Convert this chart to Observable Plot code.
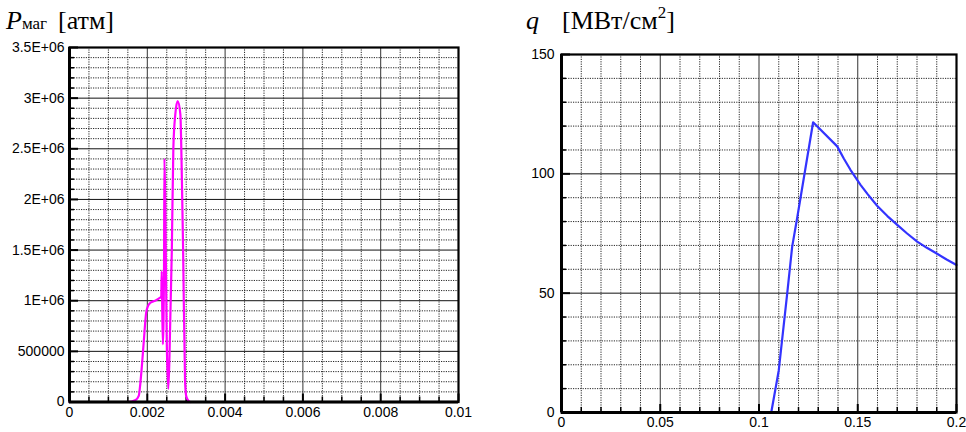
<!DOCTYPE html>
<html>
<head>
<meta charset="utf-8">
<script src="https://cdn.jsdelivr.net/npm/d3@7"></script>
<script src="https://cdn.jsdelivr.net/npm/@observablehq/plot@0.6"></script>
<style>
  html, body { margin: 0; padding: 0; background: #fff; }
  #wrap { position: relative; width: 966px; height: 432px; overflow: hidden; background: #fff; }
  .panel { position: absolute; top: 0; z-index: 0; }
  .ttl { position: absolute; z-index: 2; font-family: "Liberation Serif", "Times New Roman", serif; font-size: 26px; line-height: 26px; color: #000; white-space: nowrap; }
  svg { overflow: visible; }
</style>
</head>
<body>
<div id="wrap">
  <div id="left" class="panel" style="left:0px;"></div>
  <div id="right" class="panel" style="left:480px;"></div>
  <div class="ttl" style="left:6px; top:8px;"><i>P</i><span style="font-size:17px;">маг</span></div>
  <div class="ttl" style="left:58px; top:8px;">[атм]</div>
  <div class="ttl" style="left:526px; top:8px;"><i>q</i></div>
  <div class="ttl" style="left:562px; top:8px;">[МВт/см<span style="font-size:17px; position:relative; top:-11px;">2</span>]</div>
</div>
<script>
// ---- Left panel data: magnetic pressure vs time ----
const pTime = [0, 0.0015, 0.0017, 0.00178, 0.00182, 0.00187, 0.00191, 0.00197, 0.00202, 0.00208, 0.0022, 0.00233, 0.00236, 0.00237, 0.00238, 0.0024, 0.00243, 0.00244, 0.00246, 0.0025, 0.00254, 0.00257, 0.00263, 0.00267, 0.00272, 0.00278, 0.00285, 0.00289, 0.00292, 0.00297, 0.003, 0.00306, 0.0031];
const pMag  = [0, 0, 20000, 60000, 180000, 400000, 600000, 880000, 950000, 980000, 1000000, 1030000, 1040000, 1290000, 1050000, 570000, 1300000, 2400000, 2000000, 600000, 130000, 450000, 1490000, 2510000, 2840000, 2970000, 2840000, 2180000, 1520000, 210000, 60000, 10000, 0];

const leftXTicks  = [0, 0.002, 0.004, 0.006, 0.008, 0.01];
const leftXLabels = ["0", "0.002", "0.004", "0.006", "0.008", "0.01"];
const leftYTicks  = [0, 500000, 1000000, 1500000, 2000000, 2500000, 3000000, 3500000];
const leftYLabels = ["0", "500000", "1E+06", "1.5E+06", "2E+06", "2.5E+06", "3E+06", "3.5E+06"];
const leftXMinorStep = 0.0005;
const leftYMinorStep = 100000;

// ---- Right panel data: heat flux vs time ----
const qTime = [0.1062, 0.110, 0.1143, 0.1168, 0.1193, 0.1274, 0.1396, 0.143, 0.1463, 0.1514, 0.155, 0.1598, 0.165, 0.170, 0.175, 0.1801, 0.185, 0.1902, 0.195, 0.2];
const qFlux = [0, 17.6, 50, 69.5, 81.4, 121.6, 111.5, 106.3, 101.7, 95.4, 91.5, 86.6, 82.3, 78.6, 75.0, 71.6, 69.0, 66.5, 64.1, 61.8];

const rightXTicks  = [0, 0.05, 0.1, 0.15, 0.2];
const rightXLabels = ["0", "0.05", "0.1", "0.15", "0.2"];
const rightYTicks  = [0, 50, 100, 150];
const rightYLabels = ["0", "50", "100", "150"];
const rightXMinorStep = 0.01;
const rightYMinorStep = 10;

function minors(ticks, step) {
  const lo = ticks[0], hi = ticks[ticks.length - 1];
  const n = Math.round((hi - lo) / step);
  const out = [];
  for (let i = 0; i <= n; i++) {
    const v = lo + i * step;
    if (!ticks.some(t => Math.abs(t - v) < step * 1e-6)) out.push(v);
  }
  return out;
}

function panel(cfg) {
  const xMinor = minors(cfg.xTicks, cfg.xMinorStep);
  const yMinor = minors(cfg.yTicks, cfg.yMinorStep);
  const pw = cfg.width - cfg.ml - cfg.mr;
  const ph = cfg.height - cfg.mt - cfg.mb;
  const xLab = new Map(cfg.xTicks.map((t, i) => [t, cfg.xLabels[i]]));
  const yLab = new Map(cfg.yTicks.map((t, i) => [t, cfg.yLabels[i]]));
  const data = cfg.xs.map((x, i) => ({x, y: cfg.ys[i]}));
  const dotted = {stroke: "#000", strokeWidth: 1, strokeDasharray: "1.2,1.2", strokeOpacity: 0.85};
  return Plot.plot({
    width: cfg.width, height: cfg.height,
    marginLeft: cfg.ml, marginRight: cfg.mr, marginTop: cfg.mt, marginBottom: cfg.mb,
    style: {fontFamily: "'Liberation Sans', Arial, sans-serif", fontSize: "14px", color: "#000", background: "transparent", overflow: "visible"},
    x: {domain: [cfg.xTicks[0], cfg.xTicks[cfg.xTicks.length - 1]], ticks: cfg.xTicks, tickFormat: d => xLab.get(d), tickSize: 0, tickPadding: 5, label: null},
    y: {domain: [cfg.yTicks[0], cfg.yTicks[cfg.yTicks.length - 1]], ticks: cfg.yTicks, tickFormat: d => yLab.get(d), tickSize: 0, tickPadding: cfg.yPad, label: null},
    marks: [
      Plot.ruleY(yMinor, dotted),
      Plot.ruleX(xMinor, dotted),
      Plot.ruleY(cfg.yTicks, {stroke: "#111", strokeWidth: 1}),
      Plot.ruleX(cfg.xTicks, {stroke: "#333", strokeWidth: 1}),
      // inward tick marks
      Plot.tickY(yMinor, {stroke: "#000", strokeWidth: 1.5, insetRight: pw - 5}),
      Plot.tickX(xMinor, {stroke: "#000", strokeWidth: 1.5, insetTop: ph - 5}),
      Plot.tickY(cfg.yTicks, {stroke: "#000", strokeWidth: 2, insetRight: pw - 9}),
      Plot.tickX(cfg.xTicks, {stroke: "#000", strokeWidth: 2, insetTop: ph - 8}),
      Plot.line(data, {x: "x", y: "y", stroke: cfg.color, strokeWidth: 2.2, curve: cfg.curve}),
      Plot.frame({stroke: "#000", strokeWidth: 2.2}),
      Plot.ruleX([cfg.xTicks[0]], {stroke: "#000", strokeWidth: 3}),
      Plot.ruleY([cfg.yTicks[0]], {stroke: "#000", strokeWidth: 3})
    ]
  });
}

document.getElementById("left").append(panel({
  width: 480, height: 432, ml: 69, mr: 22, mt: 47, mb: 30.5, yPad: 5,
  xTicks: leftXTicks, xLabels: leftXLabels, yTicks: leftYTicks, yLabels: leftYLabels,
  xMinorStep: leftXMinorStep, yMinorStep: leftYMinorStep,
  xs: pTime, ys: pMag, color: "#ff00ff", curve: "monotone-x"
}));

document.getElementById("right").append(panel({
  width: 486, height: 432, ml: 81, mr: 10, mt: 54, mb: 20, yPad: 7,
  xTicks: rightXTicks, xLabels: rightXLabels, yTicks: rightYTicks, yLabels: rightYLabels,
  xMinorStep: rightXMinorStep, yMinorStep: rightYMinorStep,
  xs: qTime, ys: qFlux, color: "#3333ff", curve: "linear"
}));
</script>
</body>
</html>
